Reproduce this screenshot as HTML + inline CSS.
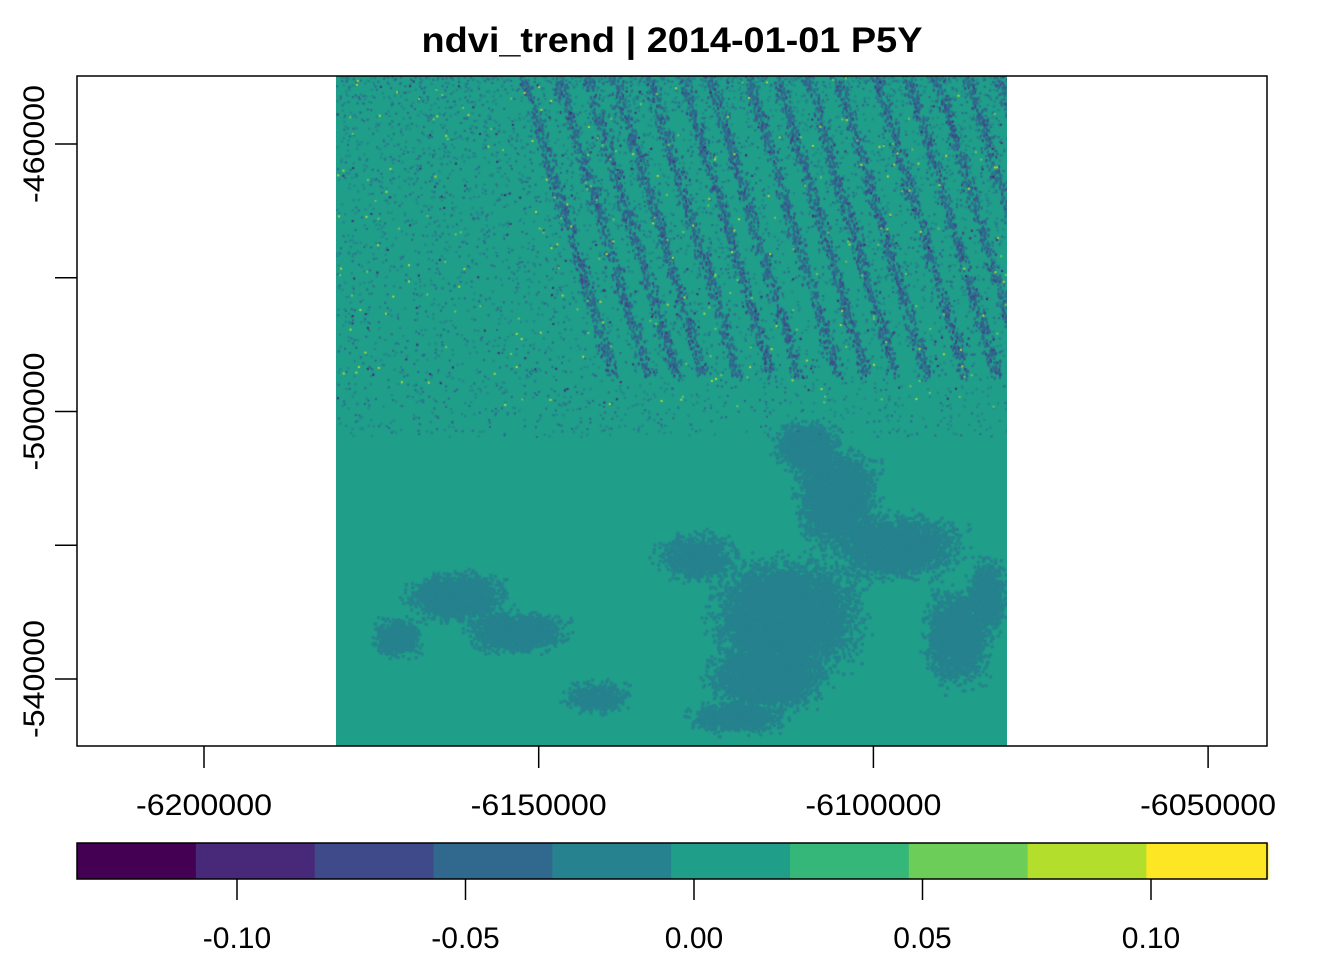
<!DOCTYPE html>
<html><head><meta charset="utf-8">
<style>
html,body{margin:0;padding:0;background:#fff;}
body{width:1344px;height:960px;position:relative;overflow:hidden;font-family:"Liberation Sans",Arial,sans-serif;}
svg text{font-family:"Liberation Sans",Arial,sans-serif;}
#ras{position:absolute;left:336px;top:76px;}
</style></head>
<body>
<canvas id="ras" width="671" height="670"></canvas>
<svg id="plot" width="1344" height="960" style="position:absolute;left:0;top:0">
<text x="672" y="52" text-anchor="middle" font-size="35" font-weight="bold" textLength="501" lengthAdjust="spacingAndGlyphs">ndvi_trend | 2014-01-01 P5Y</text>
<rect x="77" y="76" width="1190" height="670" fill="none" stroke="#000" stroke-width="1.5"/>
<g id="xaxis"></g>
<g id="yaxis"></g>
<g id="legend"></g>
</svg>
<script>
const xTicks=[-6200000,-6150000,-6100000,-6050000];
const yTicks=[-460000,-480000,-500000,-520000,-540000];
const yLabels=["-460000","","-500000","","-540000"];
const legendBreaks=[-0.135,-0.109,-0.083,-0.057,-0.031,-0.005,0.021,0.047,0.073,0.099,0.1256];
const legendColors=["#440154","#482878","#3E4A89","#31688E","#26828E","#1F9E89","#35B779","#6DCD59","#B4DE2C","#FDE725"];
const legendTicks=[-0.10,-0.05,0.00,0.05,0.10];
const NS="http://www.w3.org/2000/svg";
const xs=v=>204+(v+6200000)/50000*334.7;
const ys=v=>144+(-460000-v)/20000*133.75;
const ls=v=>694+v/0.05*228.5;
function mk(tag,attrs,parent){const e=document.createElementNS(NS,tag);for(const k in attrs)e.setAttribute(k,attrs[k]);parent.appendChild(e);return e;}
const xa=document.getElementById('xaxis');
xTicks.forEach(t=>{const x=xs(t);
 const l=mk('line',{x1:x,x2:x,y1:746,y2:768,stroke:'#000','stroke-width':1.5},xa);
 
 
 const tx=mk('text',{x:x,y:815,'text-anchor':'middle','font-size':30,textLength:136,lengthAdjust:'spacingAndGlyphs'},xa);tx.textContent=String(t);
 
 
});
const ya=document.getElementById('yaxis');
yTicks.forEach((t,i)=>{const y=ys(t);
 const l=mk('line',{x1:55,x2:77,y1:y,y2:y,stroke:'#000','stroke-width':1.5},ya);
 
 
 if(yLabels[i]){const tx=mk('text',{x:0,y:0,'text-anchor':'middle','font-size':30,textLength:118,lengthAdjust:'spacingAndGlyphs',transform:`translate(44,${y}) rotate(-90)`},ya);tx.textContent=yLabels[i];
 
 }
});
const lg=document.getElementById('legend');
legendColors.forEach((c,i)=>{const x0=ls(legendBreaks[i]),x1=ls(legendBreaks[i+1]);
 const r=mk('rect',{x:x0,y:843,width:x1-x0+0.5,height:36,fill:c},lg);
 
 
});
const fr=mk('rect',{x:77,y:843,width:1190,height:36,fill:'none',stroke:'#000','stroke-width':1.5},lg);


legendTicks.forEach(t=>{const x=ls(t);
 const l=mk('line',{x1:x,x2:x,y1:879,y2:900,stroke:'#000','stroke-width':1.5},lg);
 
 
 const tx=mk('text',{x:x,y:948,'text-anchor':'middle','font-size':30},lg);tx.textContent=t.toFixed(2);
 
 
});
// raster texture
const cv=document.getElementById('ras'),ctx=cv.getContext('2d');
ctx.fillStyle="#1F9E89";ctx.fillRect(0,0,671,670);
let s=12345;const rnd=()=>{s=(s*1103515245+12345)&0x7fffffff;return s/0x7fffffff;};
function gauss(){return (rnd()+rnd()+rnd()-1.5)/1.5;}
// lower darker region: many small gaussian clusters
function cluster(cx,cy,rx,ry,n,col){ctx.fillStyle=col;for(let i=0;i<n;i++){ctx.fillRect(cx+gauss()*rx,cy+gauss()*ry,3,3);}}
const blobs=[[450,540,90,70,7000],[430,600,70,40,3000],[500,420,50,60,3000],[470,370,40,30,1200],[560,470,80,40,2500],[620,560,40,60,2000],[120,520,60,30,1800],[180,555,60,25,1600],[60,560,30,25,600],[400,640,60,20,900],[260,620,40,20,500],[360,480,50,30,900],[650,520,25,50,800]];
blobs.forEach(b=>cluster(b[0],b[1],b[2],b[3],b[4],"#26828E"));
// diagonal streaks in upper area
for(let k=0;k<16;k++){const x0=180+k*32+rnd()*10;for(let i=0;i<450;i++){const t=rnd();ctx.fillStyle=rnd()<0.75?"#31688E":"#3E4A89";ctx.fillRect(x0+t*90+gauss()*10,t*300+gauss()*8,2,3);}}
for(let i=0;i<5000;i++){const x=rnd()*671,y=Math.pow(rnd(),1.4)*360;ctx.fillStyle=rnd()<0.6?"#26828E":"#31688E";ctx.fillRect(x,y,2,2);}
for(let i=0;i<250;i++){const x=rnd()*671,y=rnd()*330;ctx.fillStyle=rnd()<0.5?"#6DCD59":"#B4DE2C";ctx.fillRect(x,y,2,2);}
for(let i=0;i<150;i++){const x=rnd()*671,y=rnd()*330;ctx.fillStyle="#482878";ctx.fillRect(x,y,2,2);}
</script>
</body></html>
